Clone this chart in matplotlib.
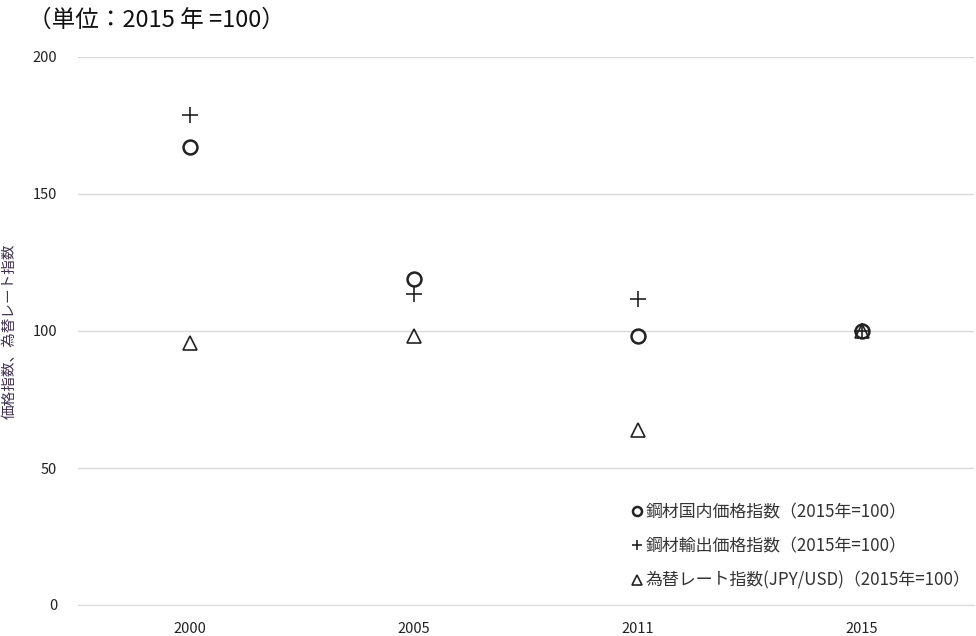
import matplotlib.pyplot as plt
import numpy as np

plt.rcParams['font.family'] = ['Noto Sans CJK JP', 'DejaVu Sans']

years = ['2000', '2005', '2011', '2015']
domestic = [167, 119, 98, 100]
export = [179, 113.5, 111.5, 100]
fx_rate = [95.5, 98, 64, 100]

fig = plt.figure(figsize=(9.76, 6.36), dpi=100)
ax = fig.add_axes([78 / 976, 1 - 605 / 636, 896 / 976, 548 / 636])

x = np.arange(len(years))
ax.plot(x, domestic, linestyle='none', marker='o', markersize=10,
        markerfacecolor='none', markeredgecolor='#222222', markeredgewidth=1.8,
        label='鋼材国内価格指数（2015年=100）')
ax.plot(x, export, linestyle='none', marker='+', markersize=12,
        color='#222222', markeredgewidth=1.2,
        label='鋼材輸出価格指数（2015年=100）')
ax.plot(x, fx_rate, linestyle='none', marker='^', markersize=10,
        markerfacecolor='none', markeredgecolor='#222222', markeredgewidth=1.2,
        label='為替レート指数(JPY/USD)（2015年=100）')

ax.set_xlim(-0.5, len(years) - 0.5)
ax.set_ylim(0, 200)
ax.set_xticks(x)
ax.set_xticklabels(years)
ax.set_yticks([0, 50, 100, 150, 200])
ax.grid(axis='y', color='#d9d9d9', linewidth=1)
ax.set_axisbelow(True)
for s in ['top', 'right', 'left']:
    ax.spines[s].set_visible(False)
ax.spines['bottom'].set_color('#d9d9d9')
ax.tick_params(axis='both', length=0, labelsize=10.5, colors='#222222')
ax.tick_params(axis='y', pad=15)
ax.tick_params(axis='x', pad=12)

ax.set_ylabel('価格指数、為替レート指数', fontsize=10.5, color='#403050')
ax.yaxis.set_label_coords(-0.068, 0.5)

fig.text(28 / 976, 1 - 20 / 636, '（単位：2015 年 =100）', fontsize=17,
         va='center', ha='left', color='#111111')

leg = ax.legend(loc='lower right', bbox_to_anchor=(0.998, 0.025), frameon=False,
                fontsize=12.2, handletextpad=0.05, handlelength=0.9,
                labelspacing=0.95, markerscale=0.65, borderpad=0.1,
                borderaxespad=0)
for t in leg.get_texts():
    t.set_color('#333333')

fig.savefig('out.png', dpi=100)
